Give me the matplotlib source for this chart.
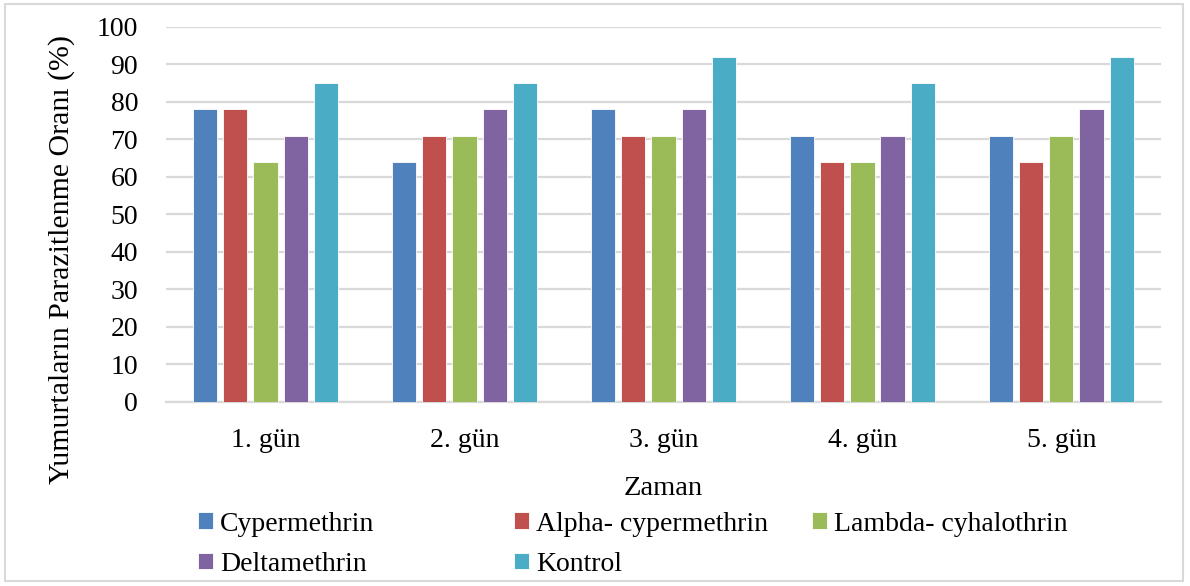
import numpy as np
import matplotlib.pyplot as plt
from matplotlib.patches import Rectangle

days = ["1. gün", "2. gün", "3. gün", "4. gün", "5. gün"]
cypermethrin = [78, 64, 78, 71, 71]
alpha_cypermethrin = [78, 71, 71, 64, 64]
lambda_cyhalothrin = [64, 71, 71, 64, 71]
deltamethrin = [71, 78, 78, 71, 78]
kontrol = [85, 85, 92, 85, 92]

series = [
    ("Cypermethrin", cypermethrin, "#4F81BD"),
    ("Alpha- cypermethrin", alpha_cypermethrin, "#C0504D"),
    ("Lambda- cyhalothrin", lambda_cyhalothrin, "#9BBB59"),
    ("Deltamethrin", deltamethrin, "#8064A2"),
    ("Kontrol", kontrol, "#4BACC6"),
]

plt.rcParams['font.family'] = ['Liberation Serif', 'DejaVu Serif']

fig = plt.figure(figsize=(11.9, 5.86), dpi=100)
ax = fig.add_axes([0.1395, 0.314, 0.836, 0.64])

x = np.arange(len(days))
step = 0.152
width = 0.122
bars = []
for i, (name, vals, col) in enumerate(series):
    b = ax.bar(x + (i - 2) * step, vals, width, color=col, label=name,
               edgecolor="white", linewidth=0.6, zorder=3)
    bars.append(b)

ax.set_ylim(0, 100)
ax.set_xlim(-0.5, len(days) - 0.5)
ax.set_yticks(range(0, 101, 10))
ax.yaxis.grid(True, color="#d9d9d9", linewidth=1.6, zorder=0)
ax.set_axisbelow(True)
for s in ["top", "right", "left"]:
    ax.spines[s].set_visible(False)
ax.spines["bottom"].set_color("#d9d9d9")
ax.spines["bottom"].set_linewidth(1.6)
ax.tick_params(axis="both", length=0, labelsize=20, colors="black")
ax.tick_params(axis="x", pad=19)
ax.tick_params(axis="y", pad=20)
ax.set_xticks(x)
ax.set_xticklabels(days)

ax.set_ylabel("Yumurtaların Parazitlenme Oranı (%)", fontsize=21.5)
ax.yaxis.set_label_coords(-0.091, 0.379)
ax.set_xlabel("Zaman", fontsize=20.5, labelpad=16)

# legend laid out in three columns, filled row by row
columns = [([0, 3], 0.166), ([1, 4], 0.432), ([2], 0.682)]
for idx, xpos in columns:
    fig.legend([bars[k] for k in idx], [series[k][0] for k in idx],
               loc="upper left", bbox_to_anchor=(xpos, 0.127),
               frameon=False, fontsize=20, handlelength=0.55, handleheight=0.55,
               handletextpad=0.25, labelspacing=0.55,
               borderaxespad=0, borderpad=0)

# light frame around the whole chart
fig.add_artist(Rectangle((0.004, 0.008), 0.99, 0.985, transform=fig.transFigure,
                         fill=False, edgecolor="#d9d9d9", linewidth=1.5))

fig.savefig("out.png", dpi=100)
